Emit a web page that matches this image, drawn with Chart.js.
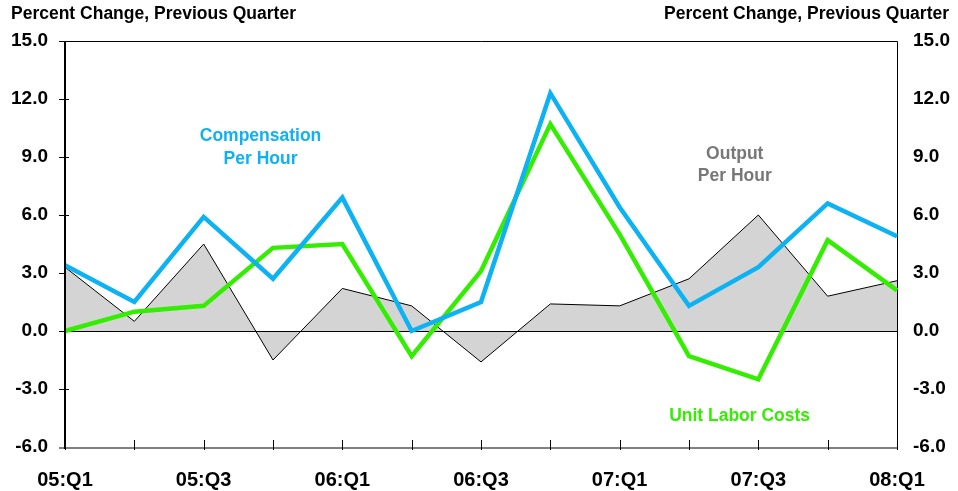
<!DOCTYPE html>
<html>
<head>
<meta charset="utf-8">
<script src="https://cdn.jsdelivr.net/npm/chart.js@4.4.1/dist/chart.umd.min.js"></script>
<style>
  html, body { margin: 0; padding: 0; background: #fff; }
  #wrap { width: 958px; height: 491px; position: relative; }
</style>
</head>
<body>
<div id="wrap"><canvas id="chart" width="958" height="491"></canvas></div>
<script>
// Data
const quarters = ['05:Q1', '05:Q2', '05:Q3', '05:Q4', '06:Q1', '06:Q2', '06:Q3', '06:Q4',
                  '07:Q1', '07:Q2', '07:Q3', '07:Q4', '08:Q1'];
const compensation = [3.4, 1.5, 5.9, 2.7, 6.9, 0.0, 1.5, 12.3, 6.4, 1.3, 3.3, 6.6, 4.9];
const unitLaborCosts = [0.0, 1.0, 1.3, 4.3, 4.5, -1.3, 3.1, 10.7, 5.0, -1.3, -2.5, 4.7, 2.1];
const outputPerHour = [3.3, 0.5, 4.5, -1.5, 2.2, 1.3, -1.6, 1.4, 1.3, 2.7, 6.0, 1.8, 2.6];
const yTicks = [15, 12, 9, 6, 3, 0, -3, -6];

const axisTitle = 'Percent Change, Previous Quarter';
const FONT = 'Arial, "Liberation Sans", sans-serif';

const blue = '#0db2f2';
const green = '#33ee00';
const grey = '#777777';

// Draws zero line over the shaded area
const zeroLine = {
    id: 'zeroLine',
    afterDatasetDraw(chart, args) {
        if (args.index !== 2) return;
        const ctx = chart.ctx;
        const y = chart.scales.y.getPixelForValue(0);
        const a = chart.chartArea;
        ctx.save();
        ctx.strokeStyle = '#000';
        ctx.lineWidth = 1;
        ctx.beginPath();
        ctx.moveTo(a.left, Math.round(y) + 0.5);
        ctx.lineTo(a.right, Math.round(y) + 0.5);
        ctx.stroke();
        ctx.restore();
    }
};

// Frame, ticks and text labels
const decorations = {
    id: 'decorations',
    beforeDatasetsDraw(chart) {
        const ctx = chart.ctx;
        const a = chart.chartArea;
        const y = chart.scales.y;
        ctx.save();
        // top + right border
        ctx.strokeStyle = '#000';
        ctx.lineWidth = 1;
        ctx.beginPath();
        ctx.moveTo(a.left, a.top + 0.5);
        ctx.lineTo(a.right + 0.5, a.top + 0.5);
        ctx.lineTo(a.right + 0.5, a.bottom);
        ctx.stroke();
        // y ticks on left
        yTicks.forEach(v => {
            const py = Math.round(y.getPixelForValue(v)) + 0.5;
            ctx.beginPath();
            ctx.moveTo(a.left - 6, py);
            ctx.lineTo(a.left + 4, py);
            ctx.stroke();
        });
        ctx.restore();
    },
    afterDraw(chart) {
        const ctx = chart.ctx;
        const a = chart.chartArea;
        const x = chart.scales.x;
        const y = chart.scales.y;
        ctx.save();
        // bottom axis
        ctx.strokeStyle = '#808080';
        ctx.lineWidth = 2;
        ctx.beginPath();
        ctx.moveTo(a.left - 6, a.bottom + 1);
        ctx.lineTo(a.right, a.bottom + 1);
        ctx.stroke();
        // x ticks
        ctx.strokeStyle = '#000';
        ctx.lineWidth = 1;
        quarters.forEach((q, i) => {
            const px = Math.round(x.getPixelForValue(i)) + 0.5;
            ctx.beginPath();
            ctx.moveTo(px, a.bottom - 7);
            ctx.lineTo(px, a.bottom + 3);
            ctx.stroke();
        });
        // left axis
        ctx.lineWidth = 2;
        ctx.beginPath();
        ctx.moveTo(a.left, a.top);
        ctx.lineTo(a.left, a.bottom + 2);
        ctx.stroke();

        // axis titles
        ctx.fillStyle = '#000';
        ctx.font = 'bold 17.5px ' + FONT;
        ctx.textBaseline = 'middle';
        ctx.textAlign = 'left';
        ctx.fillText(axisTitle, 11, 14);
        ctx.textAlign = 'right';
        ctx.fillText(axisTitle, 949, 14);

        // series labels
        ctx.font = 'bold 17.5px ' + FONT;
        ctx.textAlign = 'center';
        ctx.fillStyle = blue;
        ctx.fillText('Compensation', x.getPixelForValue(2.82), y.getPixelForValue(10.1));
        ctx.fillText('Per Hour', x.getPixelForValue(2.82), y.getPixelForValue(8.9));
        ctx.fillStyle = grey;
        ctx.fillText('Output', x.getPixelForValue(9.66), y.getPixelForValue(9.15));
        ctx.fillText('Per Hour', x.getPixelForValue(9.66), y.getPixelForValue(8.0));
        ctx.fillStyle = green;
        ctx.fillText('Unit Labor Costs', x.getPixelForValue(9.73), y.getPixelForValue(-4.4));
        ctx.restore();
    }
};

const ctx = document.getElementById('chart').getContext('2d');
const chart = new Chart(ctx, {
    type: 'line',
    data: {
        labels: quarters,
        datasets: [
            {
                label: 'Compensation Per Hour',
                data: compensation,
                borderColor: blue,
                borderWidth: 4.5,
                pointRadius: 0,
                tension: 0,
                fill: false
            },
            {
                label: 'Unit Labor Costs',
                data: unitLaborCosts,
                borderColor: green,
                borderWidth: 4.5,
                pointRadius: 0,
                tension: 0,
                fill: false
            },
            {
                label: 'Output Per Hour',
                data: outputPerHour,
                borderColor: '#000',
                borderWidth: 1,
                backgroundColor: '#d4d4d4',
                pointRadius: 0,
                tension: 0,
                fill: 'origin'
            }
        ]
    },
    options: {
        responsive: false,
        animation: false,
        layout: { padding: { top: 41, right: 0, bottom: 0, left: 0 } },
        plugins: {
            legend: { display: false },
            tooltip: { enabled: false }
        },
        scales: {
            x: {
                type: 'category',
                offset: false,
                grid: { display: false, drawTicks: false },
                border: { display: false },
                ticks: {
                    autoSkip: false,
                    maxRotation: 0,
                    padding: 21,
                    color: '#000',
                    font: { family: FONT, size: 20, weight: 'bold' },
                    callback: (v, i) => (i % 2 === 0 ? quarters[i] : '')
                },
                afterFit: s => { s.height = 44; }
            },
            y: {
                position: 'left',
                min: -6,
                max: 15,
                grid: { display: false, drawTicks: false },
                border: { display: false },
                afterBuildTicks: s => { s.ticks = yTicks.map(v => ({ value: v })); },
                ticks: {
                    padding: 17,
                    color: '#000',
                    font: { family: FONT, size: 19, weight: 'bold' },
                    callback: v => v.toFixed(1)
                },
                afterFit: s => { s.width = 65; }
            },
            y2: {
                position: 'right',
                min: -6,
                max: 15,
                grid: { display: false, drawTicks: false },
                border: { display: false },
                afterBuildTicks: s => { s.ticks = yTicks.map(v => ({ value: v })); },
                ticks: {
                    padding: 16,
                    color: '#000',
                    font: { family: FONT, size: 19, weight: 'bold' },
                    callback: v => v.toFixed(1)
                },
                afterFit: s => { s.width = 61; }
            }
        }
    },
    plugins: [zeroLine, decorations]
});
</script>
</body>
</html>
